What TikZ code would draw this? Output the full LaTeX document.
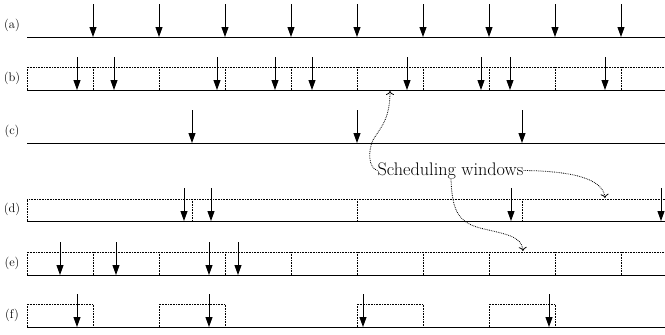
\documentclass[tikz,border=0pt]{standalone}
\usetikzlibrary{arrows.meta}
\begin{document}
\begin{tikzpicture}[x=1pt,y=-1pt,
  baseln/.style={line width=1pt},
  win/.style={densely dotted, line width=0.6pt},
  evt/.style={line width=0.9pt, -{Triangle[length=10pt,width=7pt]}},
  lbl/.style={font=\fontsize{12.5}{14}\selectfont, inner sep=0pt},
  note/.style={densely dotted, line width=0.8pt, -{To[length=4pt,width=8pt]}}]
\useasboundingbox (0,0) rectangle (665,335);
% (a)
\node[lbl] (la) at (12,25) {(a)};
\draw[baseln] (27,37) -- (665,37);
\foreach \x in {93,159,...,621} \draw[evt] (\x,4) -- (\x,37);
% (b)
\node[lbl] (lb) at (12,78) {(b)};
\draw[win] (27,90) -- (27,67) -- (665,67);
\foreach \x in {93,159,...,621} \draw[win] (\x,67) -- (\x,90);
\draw[baseln] (27,90) -- (665,90);
\foreach \x in {77,114,217,275,312,407,481,510,605} \draw[evt] (\x,57) -- (\x,90);
% (c)
\node[lbl] (lc) at (12,131) {(c)};
\draw[baseln] (27,143) -- (665,143);
\foreach \x in {192,357,522} \draw[evt] (\x,110) -- (\x,143);
% (d)
\node[lbl] (ld) at (12,209) {(d)};
\draw[win] (27,221) -- (27,199) -- (665,199);
\foreach \x in {192,357,522} \draw[win] (\x,199) -- (\x,221);
\draw[baseln] (27,221) -- (665,221);
\foreach \x in {184,211,511,661} \draw[evt] (\x,188) -- (\x,221);
% (e)
\node[lbl] (le) at (12,263) {(e)};
\draw[win] (27,275) -- (27,252) -- (665,252);
\foreach \x in {93,159,...,621} \draw[win] (\x,252) -- (\x,275);
\draw[baseln] (27,275) -- (665,275);
\foreach \x in {60,116,209,238} \draw[evt] (\x,242) -- (\x,275);
% (f)
\node[lbl] (lf) at (12,315) {(f)};
\foreach \x in {27,159,357,489} \draw[win] (\x,327) -- (\x,304) -- ++(66,0) -- ++(0,23);
\draw[baseln] (27,327) -- (665,327);
\foreach \x in {77,209,363,549} \draw[evt] (\x,294) -- (\x,327);
% note
\node[font=\fontsize{18.2}{21}\selectfont, inner sep=0pt, anchor=base] (sw) at (450.5,175) {Scheduling windows};
\coordinate (wb) at (390,91);
\coordinate (wd) at (605,198);
\coordinate (we) at (523,251);
\draw[note] (sw.west) .. controls (368,168) and (368,150) .. (373,140) .. controls (380,128) and (390,120) .. (wb);
\draw[note] (sw.east) .. controls (570,171) and (603,178) .. (wd);
\draw[note] ([xshift=0.5pt]sw.south) .. controls (452,210) and (458,222) .. (480,228) .. controls (505,234) and (522,236) .. (we);
\end{tikzpicture}
\end{document}
